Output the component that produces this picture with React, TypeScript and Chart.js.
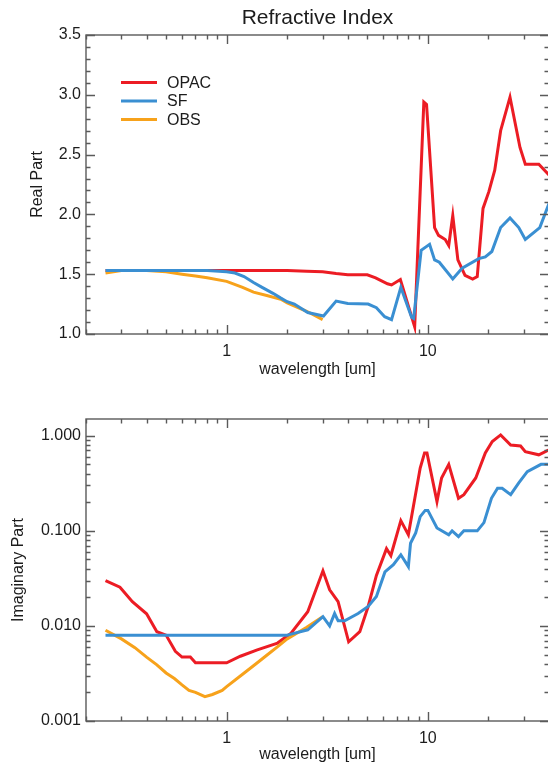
import React, { useEffect, useRef } from "react";
import { Chart, registerables } from "chart.js";

Chart.register(...registerables);

// ---------- text & styling ----------
const FONT = "'Liberation Sans', Arial, Helvetica, sans-serif";
const TEXT_COLOR = "#1c1c1c";
const AXIS_COLOR = "#5a5a5a";

const TITLE = "Refractive Index";
const X_TITLE = "wavelength [um]";
const REAL_TITLE = "Real Part";
const IMAG_TITLE = "Imaginary Part";

const SERIES_NAMES = ["OPAC", "SF", "OBS"];
const SERIES_COLORS = ["#ec1c24", "#3a8fd2", "#f7a21b"];

// ---------- axes ----------
const X_MIN = 0.2;
const X_MAX = 40;
const X_TICKS = [1, 10];
const REAL_MIN = 1.0;
const REAL_MAX = 3.5;
const REAL_TICKS = [1.0, 1.5, 2.0, 2.5, 3.0, 3.5];
const IMAG_MIN = 0.001;
const IMAG_MAX = 1.5;
const IMAG_TICKS = [0.001, 0.01, 0.1, 1.0];

// ---------- data: real part ----------
const opacRealWl = [0.25, 0.3, 0.4, 0.5, 0.7, 1.0, 1.5, 2.0, 2.5, 3.0, 3.5, 4.0, 5.0, 5.5, 6.3, 6.6, 7.3, 8.6, 9.55, 9.85, 10.8, 11.3, 12.2, 12.7, 13.3, 14.1, 15.3, 16.7, 17.6, 18.8, 20.1, 21.5, 23.0, 25.6, 28.7, 30.5, 35.6, 40.0];
const opacReal = [1.53, 1.53, 1.53, 1.53, 1.53, 1.53, 1.53, 1.53, 1.525, 1.52, 1.505, 1.495, 1.495, 1.47, 1.42, 1.41, 1.455, 1.06, 2.94, 2.92, 1.89, 1.825, 1.79, 1.74, 1.99, 1.62, 1.49, 1.46, 1.48, 2.05, 2.19, 2.37, 2.7, 2.98, 2.56, 2.42, 2.42, 2.33];

const sfRealWl = [0.25, 0.3, 0.5, 0.8, 1.0, 1.1, 1.22, 1.36, 1.5, 1.7, 1.86, 2.0, 2.17, 2.53, 3.03, 3.5, 4.0, 5.05, 5.55, 6.1, 6.6, 7.34, 8.3, 8.5, 9.26, 10.2, 10.8, 11.4, 13.3, 14.8, 17.9, 19.3, 20.8, 23.0, 25.6, 28.3, 30.5, 36.0, 40.0];
const sfReal = [1.53, 1.53, 1.53, 1.53, 1.52, 1.51, 1.48, 1.43, 1.39, 1.34, 1.3, 1.27, 1.25, 1.18, 1.15, 1.275, 1.255, 1.25, 1.22, 1.145, 1.12, 1.39, 1.14, 1.13, 1.7, 1.75, 1.62, 1.6, 1.46, 1.55, 1.63, 1.645, 1.69, 1.89, 1.97, 1.89, 1.79, 1.89, 2.09];

const obsRealWl = [0.25, 0.3, 0.4, 0.5, 0.6, 0.7, 0.8, 1.0, 1.2, 1.36, 1.6, 1.86, 2.0, 2.5, 3.0];
const obsReal = [1.51, 1.53, 1.53, 1.52, 1.5, 1.485, 1.47, 1.44, 1.39, 1.35, 1.32, 1.29, 1.26, 1.19, 1.12];

// ---------- data: imaginary part ----------
const opacImagWl = [0.25, 0.295, 0.34, 0.4, 0.45, 0.5, 0.556, 0.6, 0.66, 0.7, 1.0, 1.17, 1.42, 1.79, 2.09, 2.53, 3.01, 3.25, 3.58, 4.04, 4.59, 5.05, 5.55, 6.23, 6.55, 7.34, 8.0, 9.16, 9.63, 9.9, 11.1, 11.7, 12.7, 14.2, 15.1, 17.3, 19.3, 20.9, 23.0, 25.8, 28.9, 30.5, 35.6, 40.0];
const opacImag = [0.03, 0.0255, 0.018, 0.0134, 0.0087, 0.008, 0.0054, 0.0047, 0.0047, 0.0041, 0.0041, 0.0048, 0.0056, 0.0066, 0.0084, 0.0141, 0.038, 0.024, 0.018, 0.0068, 0.0087, 0.016, 0.034, 0.065, 0.055, 0.128, 0.091, 0.457, 0.66, 0.66, 0.203, 0.36, 0.5, 0.22, 0.24, 0.36, 0.66, 0.87, 1.02, 0.8, 0.78, 0.68, 0.63, 0.71];

const sfImagWl = [0.25, 2.0, 2.09, 2.53, 3.01, 3.25, 3.44, 3.58, 3.86, 4.5, 5.05, 5.55, 6.12, 6.74, 7.34, 8.0, 8.2, 8.7, 9.16, 9.7, 10.0, 11.1, 12.7, 13.2, 14.2, 15.1, 17.6, 19.0, 20.7, 22.2, 23.4, 25.8, 28.3, 31.2, 36.5, 40.0];
const sfImag = [0.008, 0.008, 0.0082, 0.0091, 0.0125, 0.01, 0.0135, 0.0113, 0.0113, 0.0135, 0.016, 0.0204, 0.037, 0.044, 0.056, 0.042, 0.074, 0.095, 0.141, 0.164, 0.164, 0.107, 0.091, 0.1, 0.087, 0.1, 0.1, 0.122, 0.22, 0.28, 0.28, 0.24, 0.32, 0.42, 0.5, 0.5];

const obsImagWl = [0.25, 0.3, 0.35, 0.4, 0.45, 0.5, 0.55, 0.6, 0.65, 0.7, 0.78, 0.85, 0.95, 1.0, 1.2, 1.4, 1.6, 1.8, 2.0, 2.5, 3.0];
const obsImag = [0.009, 0.0073, 0.0059, 0.0047, 0.0039, 0.0032, 0.0028, 0.0024, 0.0021, 0.002, 0.0018, 0.0019, 0.0021, 0.0023, 0.0031, 0.004, 0.005, 0.0061, 0.0073, 0.0097, 0.0125];

// ---------- helpers ----------
const pairs = (xs: number[], ys: number[]) => xs.map((x, i) => ({ x, y: ys[i] }));

function logMinor(min: number, max: number): number[] {
  const out: number[] = [];
  for (let e = Math.floor(Math.log10(min)); e <= Math.ceil(Math.log10(max)); e++) {
    for (let k = 1; k <= 9; k++) {
      const v = k * Math.pow(10, e);
      if (v >= min * 0.999 && v <= max * 1.001) out.push(v);
    }
  }
  return out;
}
function linMinor(min: number, max: number, step: number): number[] {
  const out: number[] = [];
  const n = Math.round((max - min) / step);
  for (let i = 0; i <= n; i++) out.push(min + i * step);
  return out;
}

const X_MINOR = logMinor(X_MIN, X_MAX);
const REAL_MINOR = linMinor(REAL_MIN, REAL_MAX, 0.1);
const IMAG_MINOR = logMinor(IMAG_MIN, IMAG_MAX);

function framePlugin(yMajor: number[], yMinor: number[], showTitle: boolean, showLegend: boolean) {
  return {
    id: "idlFrame",
    afterDatasetsDraw(chart: any) {
      const { ctx, chartArea: a, scales } = chart;
      const xs = scales.x;
      const ys = scales.y;
      const MAJ = 9;
      const MIN = 4.5;
      ctx.save();
      ctx.strokeStyle = AXIS_COLOR;
      ctx.lineWidth = 1.4;
      ctx.strokeRect(a.left, a.top, a.right - a.left, a.bottom - a.top);
      ctx.beginPath();
      const xt = (v: number, len: number) => {
        const p = Math.round(xs.getPixelForValue(v)) + 0.5;
        ctx.moveTo(p, a.bottom);
        ctx.lineTo(p, a.bottom - len);
        ctx.moveTo(p, a.top);
        ctx.lineTo(p, a.top + len);
      };
      const yt = (v: number, len: number) => {
        const p = Math.round(ys.getPixelForValue(v)) + 0.5;
        ctx.moveTo(a.left, p);
        ctx.lineTo(a.left + len, p);
        ctx.moveTo(a.right, p);
        ctx.lineTo(a.right - len, p);
      };
      X_MINOR.forEach((v) => xt(v, MIN));
      X_TICKS.forEach((v) => xt(v, MAJ));
      yMinor.forEach((v) => yt(v, MIN));
      yMajor.forEach((v) => yt(v, MAJ));
      ctx.stroke();
      ctx.restore();
    },
    afterDraw(chart: any) {
      const { ctx, chartArea: a } = chart;
      ctx.save();
      ctx.fillStyle = TEXT_COLOR;
      if (showTitle) {
        ctx.font = `21px ${FONT}`;
        ctx.textAlign = "center";
        ctx.textBaseline = "middle";
        ctx.fillText(TITLE, (a.left + a.right) / 2, 18);
      }
      if (showLegend) {
        const ds = chart.data.datasets;
        ctx.font = `16px ${FONT}`;
        ctx.textAlign = "left";
        ctx.textBaseline = "middle";
        SERIES_NAMES.forEach((name, i) => {
          const d = ds.find((q: any) => q.label === name);
          const y = a.top + 47.5 + i * 18.5;
          ctx.strokeStyle = d.borderColor;
          ctx.lineWidth = 3;
          ctx.beginPath();
          ctx.moveTo(a.left + 35, y);
          ctx.lineTo(a.left + 71, y);
          ctx.stroke();
          ctx.fillStyle = TEXT_COLOR;
          ctx.fillText(name, a.left + 81, y + 1);
        });
      }
      ctx.restore();
    },
  };
}

function makeConfig(kind: "real" | "imag") {
  const real = kind === "real";
  const drawOrder = [2, 0, 1];
  const sets = real
    ? [pairs(opacRealWl, opacReal), pairs(sfRealWl, sfReal), pairs(obsRealWl, obsReal)]
    : [pairs(opacImagWl, opacImag), pairs(sfImagWl, sfImag), pairs(obsImagWl, obsImag)];
  const datasets = SERIES_NAMES.map((name, i) => ({
    label: name,
    data: sets[i],
    borderColor: SERIES_COLORS[i],
    backgroundColor: SERIES_COLORS[i],
    borderWidth: 3,
    pointRadius: 0,
    tension: 0,
    fill: false,
    order: drawOrder[i],
  }));
  const tickFont = { family: FONT, size: 16 };
  return {
    type: "line" as const,
    data: { datasets },
    plugins: [framePlugin(real ? REAL_TICKS : IMAG_TICKS, real ? REAL_MINOR : IMAG_MINOR, real, real)],
    options: {
      responsive: false,
      animation: false as const,
      events: [],
      layout: { padding: { left: 0, right: 3, top: real ? 35 : 35, bottom: 0 } },
      plugins: { legend: { display: false }, title: { display: false }, tooltip: { enabled: false } },
      scales: {
        x: {
          type: "logarithmic" as const,
          min: X_MIN,
          max: X_MAX,
          afterBuildTicks: (s: any) => {
            s.ticks = X_TICKS.map((v) => ({ value: v }));
          },
          afterFit: (s: any) => {
            s.height = real ? 50 : 47;
          },
          grid: { display: false, drawTicks: false },
          border: { display: false },
          ticks: {
            autoSkip: false,
            maxRotation: 0,
            padding: 8,
            color: TEXT_COLOR,
            font: tickFont,
            callback: (v: any) => String(v),
          },
          title: {
            display: true,
            text: X_TITLE,
            color: TEXT_COLOR,
            font: { family: FONT, size: 16 },
            padding: { top: 0, bottom: real ? 5 : 4 },
          },
        },
        y: {
          type: real ? ("linear" as const) : ("logarithmic" as const),
          min: real ? REAL_MIN : IMAG_MIN,
          max: real ? REAL_MAX : IMAG_MAX,
          afterBuildTicks: (s: any) => {
            s.ticks = (real ? REAL_TICKS : IMAG_TICKS).map((v) => ({ value: v }));
          },
          afterFit: (s: any) => {
            s.width = 86;
          },
          grid: { display: false, drawTicks: false },
          border: { display: false },
          ticks: {
            autoSkip: false,
            padding: 5,
            color: TEXT_COLOR,
            font: tickFont,
            callback: (v: any) => Number(v).toFixed(real ? 1 : 3),
          },
          title: {
            display: true,
            text: real ? REAL_TITLE : IMAG_TITLE,
            color: TEXT_COLOR,
            font: { family: FONT, size: 16 },
            padding: { top: real ? 28 : 9, bottom: 0 },
          },
        },
      },
    },
  };
}

export default function App() {
  const realRef = useRef<HTMLCanvasElement | null>(null);
  const imagRef = useRef<HTMLCanvasElement | null>(null);

  useEffect(() => {
    const charts: Chart[] = [];
    if (realRef.current) charts.push(new Chart(realRef.current, makeConfig("real") as any));
    if (imagRef.current) charts.push(new Chart(imagRef.current, makeConfig("imag") as any));
    return () => charts.forEach((c) => c.destroy());
  }, []);

  return (
    <div
      style={{
        position: "absolute",
        left: 0,
        top: 0,
        width: 548,
        height: 768,
        overflow: "hidden",
        background: "#ffffff",
      }}
    >
      <canvas ref={realRef} width={552} height={384} style={{ display: "block", width: 552, height: 384 }} />
      <canvas ref={imagRef} width={552} height={384} style={{ display: "block", width: 552, height: 384 }} />
    </div>
  );
}
